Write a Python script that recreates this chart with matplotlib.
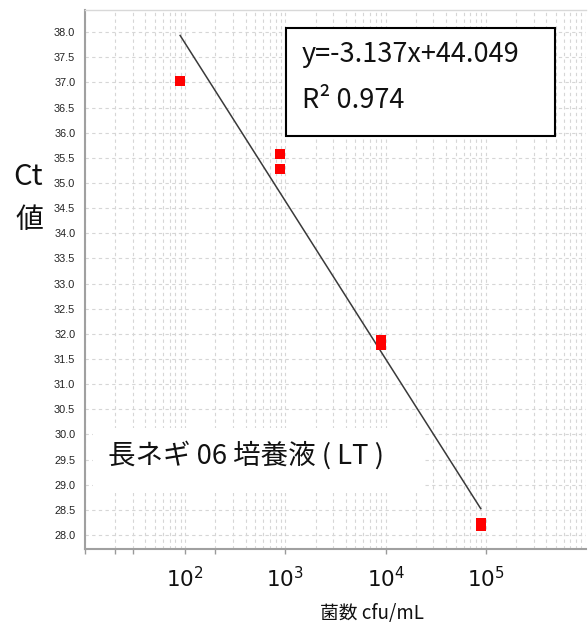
import numpy as np
import matplotlib
matplotlib.use("Agg")
import matplotlib.pyplot as plt
from matplotlib.patches import Rectangle
from matplotlib.ticker import LogLocator, NullFormatter, FixedLocator, FixedFormatter

plt.rcParams["mathtext.fontset"] = "custom"
plt.rcParams["mathtext.rm"] = "Liberation Sans"
plt.rcParams["mathtext.it"] = "Liberation Sans"

# Bacterial count (cfu/mL) and measured Ct values
cfu = [89, 890, 890, 8900, 8900, 89000, 89000]
ct = [37.02, 35.57, 35.28, 31.88, 31.78, 28.24, 28.18]

# Fitted standard curve: Ct = slope * log10(cfu) + intercept
slope = -3.137
intercept = 44.049
r_squared = 0.974

sample_label = "長ネギ 06 培養液 ( LT )"
x_label = "菌数 cfu/mL"
x_major = [1e2, 1e3, 1e4, 1e5]
x_minor_marks = [1e1, 2e1, 3e1, 2e2]
y_ticks = np.arange(28.0, 38.01, 0.5)

jp = ["Noto Sans CJK JP", "DejaVu Sans"]

fig = plt.figure(figsize=(5.88, 6.27), dpi=100)
ax = fig.add_axes([85 / 588, 1 - 549 / 627, 501 / 588, 539 / 627])

ax.set_xscale("log")
ax.set_xlim(1e1, 1e6)
ax.set_ylim(27.72, 38.44)

# Grid: every decade subdivision vertically, every 0.5 horizontally
ax.xaxis.set_minor_locator(LogLocator(base=10, subs=np.arange(1, 10), numticks=20))
ax.xaxis.set_minor_formatter(NullFormatter())
ax.tick_params(axis="x", which="minor", length=0)
ticks = sorted(x_major + x_minor_marks)
ax.xaxis.set_major_locator(FixedLocator(ticks))
ax.xaxis.set_major_formatter(FixedFormatter(
    [r"$\mathregular{10^{%d}}$" % int(round(np.log10(t))) if t in x_major else "" for t in ticks]))
ax.tick_params(axis="x", which="major", length=3.5, width=1, color="#9a9a9a",
               labelsize=15.5, pad=9, labelcolor="#111111")

ax.set_yticks(y_ticks)
ax.set_yticklabels([f"{v:.1f}" for v in y_ticks], fontfamily="Liberation Sans")
ax.tick_params(axis="y", length=0, labelsize=7.8, pad=7, labelcolor="#222222")

grid_kw = dict(color="#d6d6d6", linestyle=(0, (3, 3)), linewidth=0.8)
ax.grid(True, which="both", axis="x", **grid_kw)
ax.grid(True, which="major", axis="y", **grid_kw)
ax.set_axisbelow(True)

for side in ("left", "bottom"):
    ax.spines[side].set_color("#a0a0a0")
    ax.spines[side].set_linewidth(1.5)
ax.spines["top"].set_color("#d8d8d8")
ax.spines["top"].set_linewidth(1.0)
ax.spines["right"].set_visible(False)

# Regression line over the range of the data
xs = np.array([min(cfu), max(cfu)], dtype=float)
ax.plot(xs, slope * np.log10(xs) + intercept, color="#3a3a3a", linewidth=1.1, zorder=3)

# Measured points
ax.plot(cfu, ct, linestyle="none", marker="s", markersize=6.8,
        color="#ff0000", markeredgewidth=0, zorder=4)

# Equation box
ax.add_patch(Rectangle((0.401, 0.766), 0.537, 0.201, transform=ax.transAxes,
                       facecolor="white", edgecolor="black", linewidth=1.5, zorder=5))
ax.text(0.433, 0.917, f"y={slope:.3f}x+{intercept:.3f}", transform=ax.transAxes,
        fontsize=19.5, family=jp, va="center", ha="left", color="#111111", zorder=6)
ax.text(0.433, 0.832, f"R² {r_squared:.3f}", transform=ax.transAxes,
        fontsize=19.5, family=jp, va="center", ha="left", color="#111111", zorder=6)

# Sample name on a white band
ax.add_patch(Rectangle((0.016, 0.104), 0.659, 0.121, transform=ax.transAxes,
                       facecolor="white", edgecolor="none", zorder=2))
ax.text(0.046, 0.174, sample_label, transform=ax.transAxes, fontsize=19.8,
        family=jp, va="center", ha="left", color="#111111", zorder=6)

# Axis titles
fig.text(372 / 588, 1 - 613 / 627, x_label, fontsize=13.5, family=jp,
         ha="center", va="center", color="#111111")
fig.text(28 / 588, 1 - 177 / 627, "Ct", fontsize=21, family=jp,
         ha="center", va="center", color="#111111")
fig.text(29 / 588, 1 - 220 / 627, "値", fontsize=20, family=jp,
         ha="center", va="center", color="#111111")

fig.savefig("out.png", dpi=100)
